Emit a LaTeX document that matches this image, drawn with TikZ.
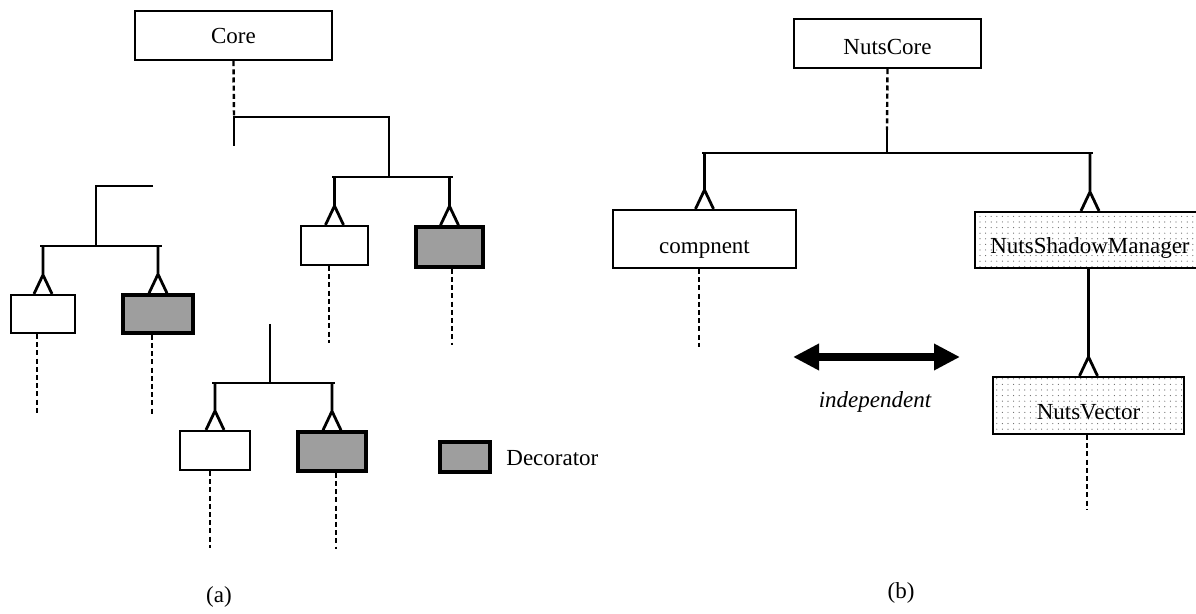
\documentclass[tikz,border=0pt]{standalone}
\usepackage{fontspec}
\setmainfont{Liberation Serif}
\usetikzlibrary{calc,arrows.meta,patterns.meta}
\tikzset{
  conn/.style={line width=1.4pt},
  dashconn/.style={line width=1.2pt, dash pattern=on 2.5pt off 1.6pt},
  cls/.style={draw, line width=1.1pt, inner sep=0pt, text height=8pt, text depth=0pt,
    font=\fontsize{11.5}{13}\selectfont},
  low/.style={text height=14pt},
  plainbox/.style={cls, fill=white},
  decbox/.style={cls, line width=1.8pt, fill=black!38},
  shadowbox/.style={cls, pattern={Dots[distance=2.8pt, radius=0.3pt]}, pattern color=black!60},
  lbl/.style={inner sep=0pt, font=\fontsize{11.5}{13}\selectfont}
}
\newcommand\gen[2]{%
  \draw[conn] (#1.north |- #2) -- ($(#1.north)+(0,-19)$) -- ($(#1.north)+(-9,0)$)
    ($(#1.north)+(0,-19)$) -- ($(#1.north)+(9,0)$);}
\begin{document}
\begin{tikzpicture}[x=0.5pt,y=-0.5pt]
\clip (0,0) rectangle (1196,614);
% ---------------- (a) ----------------
\node[plainbox, minimum width=98.5pt, minimum height=24.5pt] (core) at (233.5,35.5) {Core};
\node[plainbox, minimum width=33.5pt, minimum height=19.5pt] (r1) at (334.5,245.5) {};
\node[decbox, minimum width=33.5pt, minimum height=20pt] (r2) at (449.5,247) {};
\node[plainbox, minimum width=32pt, minimum height=19pt] (l1) at (43,314) {};
\node[decbox, minimum width=35pt, minimum height=19pt] (l2) at (158,314) {};
\node[plainbox, minimum width=35pt, minimum height=19.5pt] (b1) at (215,450.5) {};
\node[decbox, minimum width=34pt, minimum height=19.5pt] (b2) at (332,451.5) {};
\node[decbox, minimum width=25pt, minimum height=15pt] (leg) at (465,457) {};
\node[lbl, anchor=west] (legtxt) at (506,458) {Decorator};
\node[lbl] (capa) at (219,597) {(a)};

\coordinate (j0) at (234,117);
\coordinate (j0low) at (234,146);
\coordinate (j1) at (389,117);
\coordinate (rbarL) at (332,177);
\coordinate (rbarR) at (453,177);
\coordinate (lstubR) at (153,186);
\coordinate (lstubL) at (96,186);
\coordinate (lbarL) at (40,246);
\coordinate (lbarR) at (162,246);
\coordinate (bstub) at (270,324);
\coordinate (bbarL) at (212,383);
\coordinate (bbarR) at (335,383);

\draw[dashconn] (core.south) -- (j0);
\draw[conn] (j0low) -- (j0) -- (j1) -- (j1 |- rbarL);
\draw[conn] (rbarL) -- (rbarR);
\gen{r1}{rbarL}
\gen{r2}{rbarL}
\draw[conn] (lstubR) -- (lstubL) -- (lstubL |- lbarL);
\draw[conn] (lbarL) -- (lbarR);
\gen{l1}{lbarL}
\gen{l2}{lbarL}
\draw[conn] (bstub) -- (bstub |- bbarL);
\draw[conn] (bbarL) -- (bbarR);
\gen{b1}{bbarL}
\gen{b2}{bbarL}

\draw[dashconn] ($(r1.south)+(-5.5,0)$) -- ++(0,77);
\draw[dashconn] ($(r2.south)+(2.5,0)$) -- ++(0,76);
\draw[dashconn] ($(l1.south)+(-6,0)$) -- ++(0,79);
\draw[dashconn] ($(l2.south)+(-6,0)$) -- ++(0,79);
\draw[dashconn] ($(b1.south)+(-5,0)$) -- ++(0,77);
\draw[dashconn] ($(b2.south)+(4,0)$) -- ++(0,76);

% ---------------- (b) ----------------
\node[plainbox, text height=11.5pt, minimum width=93.5pt, minimum height=24.5pt] (nc) at (887.5,43.5) {NutsCore};
\node[plainbox, text height=15pt, minimum width=91.5pt, minimum height=29pt] (comp) at (704.5,239) {compnent};
\node[shadowbox, low, minimum width=115pt, minimum height=28pt] (nsm) at (1090,240) {NutsShadowManager};
\node[shadowbox, low, minimum width=95.5pt, minimum height=28.5pt] (nv) at (1088.5,405.5) {NutsVector};
\node[lbl, font=\fontsize{11.5}{13}\selectfont\itshape] (ind) at (875,402) {independent};
\node[lbl] (capb) at (901,593) {(b)};

\coordinate (k0) at (887,130);
\coordinate (k1) at (887,153);
\coordinate (cbarL) at (702,153);
\coordinate (cbarR) at (1093,153);
\coordinate (arL) at (793,357);
\coordinate (arR) at (960,357);

\draw[dashconn] (nc.south) -- (k0);
\draw[conn] (k0) -- (k1);
\draw[conn] (cbarL) -- (cbarR);
\gen{comp}{cbarL}
\gen{nsm}{cbarL}
\draw[conn] (nsm.south -| nv.north) -- ($(nv.north)+(0,-19)$) -- ($(nv.north)+(-9,0)$)
  ($(nv.north)+(0,-19)$) -- ($(nv.north)+(9,0)$);
\draw[dashconn] ($(comp.south)+(-5.5,0)$) -- ++(0,78);
\draw[dashconn] ($(nv.south)+(-1.5,0)$) -- ++(0,74);
\draw[line width=3.6pt, {Triangle[length=13pt,width=12.5pt]}-{Triangle[length=13pt,width=12.5pt]}] (arL) -- (arR);
\end{tikzpicture}
\end{document}
